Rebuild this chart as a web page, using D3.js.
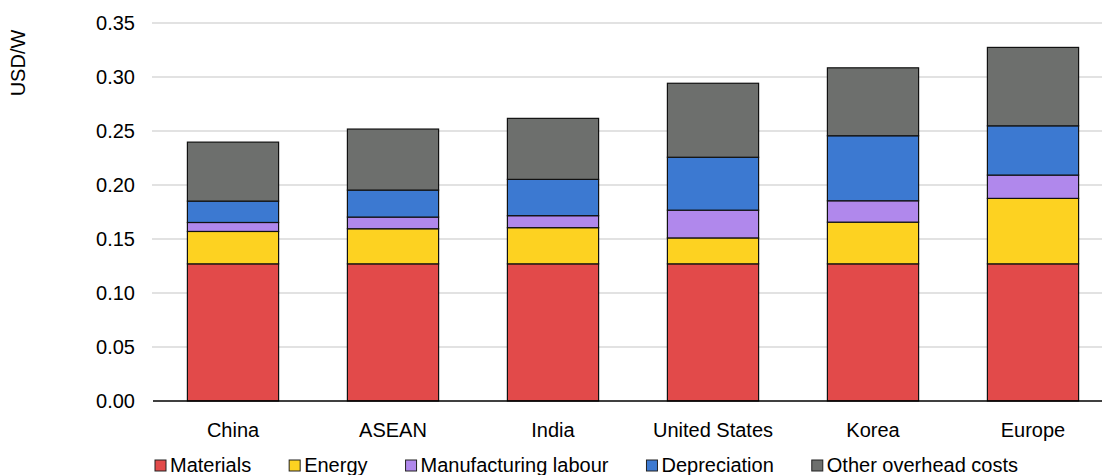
<!DOCTYPE html>
<html><head><meta charset="utf-8">
<script src="https://d3js.org/d3.v7.min.js"></script>
<style>body{margin:0;background:#fff}text{font-family:"Liberation Sans",Arial,sans-serif;fill:#000}</style>
</head><body><svg id="c" width="1102" height="475"></svg>
<script>
const categories = ["China","ASEAN","India","United States","Korea","Europe"];
const seriesNames = ["Materials","Energy","Manufacturing labour","Depreciation","Other overhead costs"];
const materials = [0.127,0.127,0.127,0.127,0.127,0.127];
const energy = [0.030,0.0325,0.0335,0.024,0.0386,0.0606];
const labour = [0.0083,0.0108,0.0111,0.0257,0.0198,0.0216];
const depreciation = [0.0198,0.025,0.0336,0.049,0.0602,0.0456];
const otherOverhead = [0.0546,0.0565,0.0565,0.0685,0.0629,0.0726];
const yTicks = [0,0.05,0.10,0.15,0.20,0.25,0.30,0.35];
const colors = ["#e24a4a","#fdd221","#b088ec","#3c79d1","#6d6f6d"];

(function(){
const seriesData = [materials,energy,labour,depreciation,otherOverhead];
const rows = categories.map((c,i)=>{const r={cat:c};seriesNames.forEach((s,j)=>r[s]=seriesData[j][i]);return r;});
const stacked = d3.stack().keys(seriesNames)(rows);

const svg = d3.select("#c");
const mL=153, mR=1113, mT=23, mB=401;
const x = d3.scaleBand().domain(categories).range([mL,mR]).paddingInner(0.43).paddingOuter(0.215);
const y = d3.scaleLinear().domain([0,0.35]).range([mB,mT]);

svg.append("g").selectAll("line").data(yTicks.filter(t=>t>0)).join("line")
  .attr("x1",mL-1).attr("x2",1102).attr("y1",d=>y(d)).attr("y2",d=>y(d))
  .attr("stroke","#d9d9d9").attr("stroke-width",1.3);

const ya = svg.append("g").attr("transform",`translate(${mL},0)`)
  .call(d3.axisLeft(y).tickValues(yTicks).tickFormat(d3.format(".2f")).tickSize(0).tickPadding(18));
ya.select(".domain").remove();
ya.selectAll("text").attr("font-size",20).attr("font-family","Liberation Sans, Arial, sans-serif").attr("fill","#000");

svg.append("text").attr("transform","translate(25,63) rotate(-90)").attr("text-anchor","middle")
  .attr("font-size",20).text("USD/W");

svg.append("g").selectAll("g").data(stacked).join("g").attr("fill",(d,i)=>colors[i])
  .selectAll("rect").data(d=>d).join("rect")
  .attr("x",d=>x(d.data.cat)).attr("width",x.bandwidth())
  .attr("y",d=>y(d[1])).attr("height",d=>y(d[0])-y(d[1]))
  .attr("stroke","#111").attr("stroke-width",1.2);

const xa = svg.append("g").attr("transform",`translate(0,${mB})`)
  .call(d3.axisBottom(x).tickSize(0).tickPadding(22));
xa.select(".domain").attr("d",`M${mL},0H1102`).attr("stroke","#000").attr("stroke-width",1.6);
xa.selectAll("text").attr("font-size",20).attr("font-family","Liberation Sans, Arial, sans-serif").attr("fill","#000");

const lg = svg.append("g");
const items = lg.selectAll("g").data(seriesNames).join("g");
items.append("rect").attr("x",0).attr("y",460).attr("width",11).attr("height",11)
  .attr("fill",(d,i)=>colors[i]).attr("stroke","#222").attr("stroke-width",1);
items.append("text").attr("x",15).attr("y",471.5).attr("font-size",20).text(d=>d);
const widths = items.nodes().map(n=>15+n.querySelector("text").getComputedTextLength());
const total = d3.sum(widths);
const gap = (1018-155-total)/(seriesNames.length-1);
let cx=155;
items.each(function(d,i){d3.select(this).attr("transform",`translate(${cx},0)`);cx+=widths[i]+gap;});
})();
</script></body></html>
